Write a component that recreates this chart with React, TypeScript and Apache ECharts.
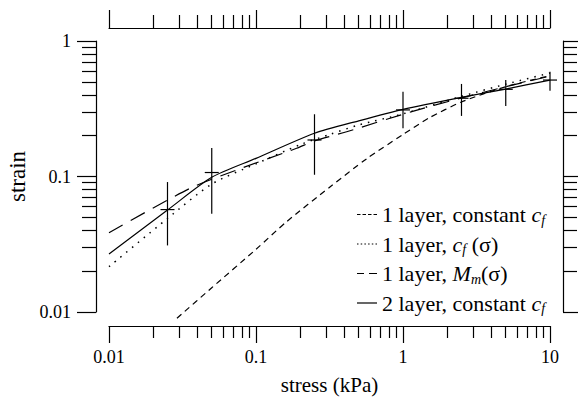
import React, { useEffect, useRef } from 'react';
import * as echarts from 'echarts';

const FONT = 'Liberation Serif, serif';

// Axis ticks
const X_MAJOR = [0.01, 0.1, 1, 10];
const X_MINOR = [0.02, 0.03, 0.04, 0.05, 0.06, 0.07, 0.08, 0.09, 0.2, 0.3, 0.4, 0.5, 0.6, 0.7, 0.8, 0.9, 2, 3, 4, 5, 6, 7, 8, 9];
const Y_MAJOR = [0.01, 0.1, 1];
const Y_MINOR = [0.02, 0.03, 0.04, 0.05, 0.06, 0.07, 0.08, 0.09, 0.2, 0.3, 0.4, 0.5, 0.6, 0.7, 0.8, 0.9];

// Measured data with error bars
const EXP_X = [0.025, 0.05, 0.25, 1, 2.5, 5, 10];
const EXP_Y = [0.057, 0.107, 0.186, 0.31, 0.378, 0.44, 0.515];
const EXP_LO = [0.031, 0.053, 0.103, 0.227, 0.28, 0.331, 0.43];
const EXP_HI = [0.091, 0.162, 0.288, 0.423, 0.482, 0.515, 0.593];

// Model curves
const CONST_X = [0.029, 0.05, 0.1, 0.16, 0.32, 0.57, 1, 1.5, 2.5, 5, 10];
const CONST_Y = [0.009, 0.0151, 0.029, 0.046, 0.084, 0.136, 0.204, 0.27, 0.355, 0.46, 0.555];

const CFS_X = [0.01, 0.025, 0.05, 0.1, 0.2, 0.32, 0.5, 1, 2.5, 5, 10];
const CFS_Y = [0.0216, 0.049, 0.088, 0.124, 0.172, 0.205, 0.24, 0.29, 0.39, 0.48, 0.58];

const MM_X = [0.01, 0.0356, 0.074, 0.189, 0.25, 0.414, 1.146, 2.5, 5, 10];
const MM_Y = [0.0385, 0.0818, 0.1117, 0.1615, 0.183, 0.214, 0.301, 0.38, 0.46, 0.55];

const TWO_X = [0.01, 0.025, 0.05, 0.1, 0.25, 0.5, 1, 2.5, 5, 10];
const TWO_Y = [0.0268, 0.0565, 0.0986, 0.136, 0.2084, 0.2576, 0.313, 0.384, 0.442, 0.515];

const NAMES = ['1 layer, constant cf', '1 layer, cf (σ)', '1 layer, Mm(σ)', '2 layer, constant cf'];
const LEGEND_RICH: Record<string, string> = {
  '1 layer, constant cf': '1 layer, constant {i|c}{s|f}',
  '1 layer, cf (σ)': '1 layer, {i|c}{s|f} (σ)',
  '1 layer, Mm(σ)': '1 layer, {i|M}{s|m}(σ)',
  '2 layer, constant cf': '2 layer, constant {i|c}{s|f}',
};

// Legend sample glyphs (20 x 1.2 px strokes)
const ICON_SHORT_DASH = 'path://M0,0h3.5v1.2h-3.5zM5.5,0h3.5v1.2h-3.5zM11,0h3.5v1.2h-3.5zM16.5,0h3.5v1.2h-3.5z';
const ICON_DOTTED = 'path://M0,0h1.5v1.2h-1.5zM3.7,0h1.5v1.2h-1.5zM7.4,0h1.5v1.2h-1.5zM11.1,0h1.5v1.2h-1.5zM14.8,0h1.5v1.2h-1.5zM18.5,0h1.5v1.2h-1.5z';
const ICON_LONG_DASH = 'path://M0,0h7v1.2h-7zM12,0h8v1.2h-8z';
const ICON_SOLID = 'path://M0,0h20v1.2h-20z';

const zip = (xs: number[], ys: number[]) => xs.map((x, i) => [x, ys[i]]);

const BLACK = '#000';
const LW = 1.2;

function xAxisDef(grid: number, position: 'top' | 'bottom', ticks: number[], len: number, main: boolean, labels: boolean) {
  return {
    type: 'log', logBase: 10, gridIndex: grid, position, min: 0.01, max: 10,
    offset: position === 'bottom' ? 14 : 13,
    silent: true,
    splitLine: { show: false }, minorTick: { show: false }, minorSplitLine: { show: false },
    axisLine: { show: main, onZero: false, lineStyle: { color: BLACK, width: LW } },
    axisTick: { show: true, inside: false, length: len, customValues: ticks, lineStyle: { color: BLACK, width: LW } },
    axisLabel: labels
      ? { show: true, customValues: X_MAJOR, margin: 22, color: BLACK, fontSize: 18, fontFamily: FONT, formatter: (v: number) => String(v) }
      : { show: false },
    ...(labels
      ? { name: 'stress (kPa)', nameLocation: 'middle', nameGap: 48, nameTextStyle: { color: BLACK, fontSize: 21, fontFamily: FONT } }
      : {}),
  };
}

function yAxisDef(grid: number, position: 'left' | 'right', ticks: number[], len: number, main: boolean, labels: boolean) {
  return {
    type: 'log', logBase: 10, gridIndex: grid, position, min: 0.01, max: 1,
    offset: 13,
    silent: true,
    splitLine: { show: false }, minorTick: { show: false }, minorSplitLine: { show: false },
    axisLine: { show: main, onZero: false, lineStyle: { color: BLACK, width: LW } },
    axisTick: { show: true, inside: false, length: len, customValues: ticks, lineStyle: { color: BLACK, width: LW } },
    axisLabel: labels
      ? { show: true, customValues: Y_MAJOR, margin: 25, color: BLACK, fontSize: 18, fontFamily: FONT, formatter: (v: number) => String(v) }
      : { show: false },
    ...(labels
      ? { name: 'strain', nameLocation: 'middle', nameGap: 65, nameTextStyle: { color: BLACK, fontSize: 23, fontFamily: FONT, padding: [0, 0, 0, 0] } }
      : {}),
  };
}

export default function App() {
  const ref = useRef<HTMLDivElement>(null);
  useEffect(() => {
    if (!ref.current) return;
    const chart = echarts.init(ref.current, undefined, { renderer: 'svg' });
    const gridRect = { left: 109, right: 28, top: 41, bottom: 86, containLabel: false, outerBoundsMode: 'none' };
    const lineSeries = (name: string, xs: number[], ys: number[], type: any, width: number, clip: boolean) => ({
      name, type: 'line', xAxisIndex: 0, yAxisIndex: 0, data: zip(xs, ys), smooth: 0.25,
      symbol: 'none', showSymbol: false, clip, silent: true,
      itemStyle: { color: BLACK },
      lineStyle: { color: BLACK, width, type, cap: 'butt' },
      emphasis: { disabled: true },
    });
    const legendItem = (name: string, icon: string) => ({ name, icon, itemStyle: { color: BLACK, borderWidth: 0 } });
    const option: any = {
      animation: false,
      backgroundColor: '#fff',
      color: [BLACK],
      textStyle: { fontFamily: FONT, color: BLACK },
      grid: [gridRect, { ...gridRect }],
      xAxis: [
        xAxisDef(0, 'bottom', X_MAJOR, 17, true, true),
        xAxisDef(0, 'top', X_MAJOR, 18, true, false),
        xAxisDef(1, 'bottom', X_MINOR, 12, false, false),
        xAxisDef(1, 'top', X_MINOR, 13, false, false),
      ],
      yAxis: [
        yAxisDef(0, 'left', Y_MAJOR, 19, true, true),
        yAxisDef(0, 'right', Y_MAJOR, 19, true, false),
        yAxisDef(1, 'left', Y_MINOR, 14, false, false),
        yAxisDef(1, 'right', Y_MINOR, 14, false, false),
      ],
      legend: {
        show: true, orient: 'vertical', left: 357, top: 202, padding: 0,
        itemWidth: 20, itemHeight: 1.2, itemGap: 4.5, selectedMode: false,
        data: [
          legendItem(NAMES[0], ICON_SHORT_DASH),
          legendItem(NAMES[1], ICON_DOTTED),
          legendItem(NAMES[2], ICON_LONG_DASH),
          legendItem(NAMES[3], ICON_SOLID),
        ],
        formatter: (n: string) => LEGEND_RICH[n] || n,
        textStyle: {
          color: BLACK, fontSize: 22, fontFamily: FONT, lineHeight: 25,
          rich: {
            i: { fontStyle: 'italic', fontSize: 22, fontFamily: FONT, color: BLACK, lineHeight: 25 },
            s: { fontStyle: 'italic', fontSize: 14, fontFamily: FONT, color: BLACK, lineHeight: 14, verticalAlign: 'bottom' },
          },
        },
      },
      series: [
        lineSeries(NAMES[0], CONST_X, CONST_Y, [6, 4.5], LW, false),
        lineSeries(NAMES[1], CFS_X, CFS_Y, [1.5, 6], 1.5, true),
        lineSeries(NAMES[2], MM_X, MM_Y, [16, 9], LW, true),
        lineSeries(NAMES[3], TWO_X, TWO_Y, 'solid', LW, true),
        {
          name: 'data', type: 'custom', xAxisIndex: 0, yAxisIndex: 0, clip: false, silent: true,
          encode: { x: 0, y: 1 },
          data: EXP_X.map((x, i) => [x, EXP_Y[i], EXP_LO[i], EXP_HI[i]]),
          renderItem: (params: any, api: any) => {
            const x = api.value(0), y = api.value(1), lo = api.value(2), hi = api.value(3);
            const p = api.coord([x, y]);
            const pl = api.coord([x, lo]);
            const ph = api.coord([x, hi]);
            const st = { stroke: BLACK, lineWidth: LW };
            return {
              type: 'group',
              children: [
                { type: 'line', shape: { x1: ph[0], y1: ph[1], x2: pl[0], y2: pl[1] }, style: st },
                { type: 'line', shape: { x1: p[0] - 7, y1: p[1], x2: p[0] + 7, y2: p[1] }, style: st },
              ],
            };
          },
        },
      ],
    };
    chart.setOption(option);
    return () => chart.dispose();
  }, []);
  return <div ref={ref} style={{ width: 578, height: 398, position: 'absolute', left: 0, top: 0 }} />;
}
